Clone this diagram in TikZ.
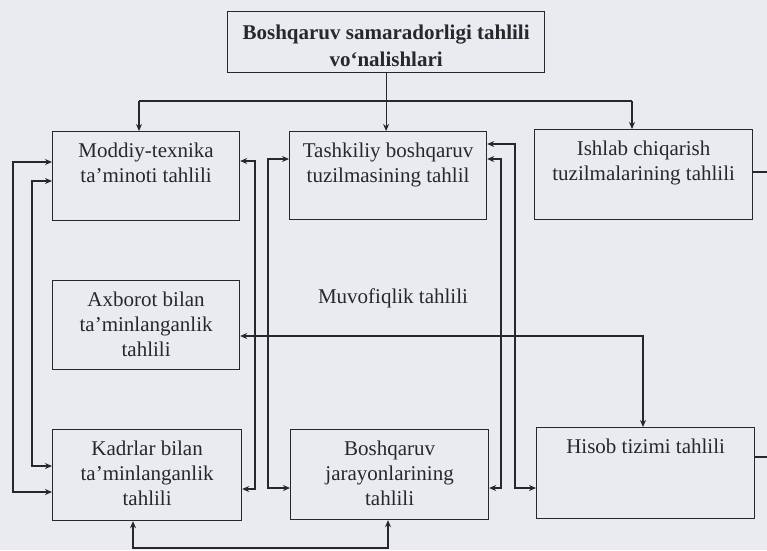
\documentclass[tikz,border=0pt]{standalone}
\usepackage{fontspec}
\setmainfont{Liberation Serif}
\usetikzlibrary{arrows.meta}
\definecolor{paper}{RGB}{233,235,241}
\definecolor{ink}{RGB}{40,40,42}
\begin{document}
\begin{tikzpicture}[x=1pt,y=-1pt,
  box/.style={draw=ink, line width=1.2pt, fill=paper, rectangle, inner sep=0pt, anchor=north west},
  lbl/.style={text=ink, inner sep=0pt, anchor=north, align=center,
    font=\fontsize{21}{25}\selectfont},
  wire/.style={draw=ink, line width=1.1pt},
  arr/.style={wire, -{Stealth[length=7pt,width=6pt]}},
  dbl/.style={wire, {Stealth[length=7pt,width=6pt]}-{Stealth[length=7pt,width=6pt]}}]
  \fill[paper] (0,0) rectangle (767,550);
  \useasboundingbox (0,0) rectangle (767,550);

  % heading box
  \node[box, minimum width=317pt, minimum height=61pt] (top) at (227,11) {};
  \node[lbl, anchor=center, font=\bfseries\fontsize{21}{27}\selectfont] (topT)
        at ([yshift=-4pt]top.center) {Boshqaruv samaradorligi tahlili\\vo‘nalishlari};

  % analysis boxes
  \node[box, minimum width=187pt, minimum height=89pt] (moddiy)  at (52,131)  {};
  \node[box, minimum width=197pt, minimum height=88pt] (tash)    at (289,131) {};
  \node[box, minimum width=218pt, minimum height=90pt] (ishlab)  at (534,129) {};
  \node[box, minimum width=187pt, minimum height=89pt] (axborot) at (52,280)  {};
  \node[box, minimum width=189pt, minimum height=91pt] (kadrlar) at (52,429)  {};
  \node[box, minimum width=198pt, minimum height=90pt] (boshq)   at (290,429) {};
  \node[box, minimum width=218pt, minimum height=91pt] (hisob)   at (536,427) {};

  % box captions, set from the top edge
  \node[lbl] (moddiyT)  at ([yshift=-12pt]moddiy.north)  {Moddiy-texnika\\ta’minoti tahlili};
  \node[lbl] (tashT)    at ([yshift=-12pt]tash.north)    {Tashkiliy boshqaruv\\tuzilmasining tahlil};
  \node[lbl] (ishlabT)  at ([yshift=-12pt]ishlab.north)  {Ishlab chiqarish\\tuzilmalarining tahlili};
  \node[lbl] (axborotT) at ([yshift=-12pt]axborot.north) {Axborot bilan\\ta’minlanganlik\\tahlili};
  \node[lbl] (kadrlarT) at ([yshift=-12pt]kadrlar.north) {Kadrlar bilan\\ta’minlanganlik\\tahlili};
  \node[lbl] (boshqT)   at ([yshift=-12pt]boshq.north)   {Boshqaruv\\jarayonlarining\\tahlili};
  \node[lbl] (hisobT)   at ([yshift=-12pt]hisob.north)   {Hisob tizimi tahlili};

  % free caption in the middle
  \node[lbl, anchor=center] (muvof) at (393,298) {Muvofiqlik tahlili};

  % distribution bus from the heading
  \coordinate (busL) at (139,101);
  \coordinate (busR) at (632,101);
  \draw[wire] (top.south) -- (top.south |- busL);
  \draw[wire] (busL) -- (busR);
  \draw[arr] (busL) -- (busL |- moddiy.north);
  \draw[arr] (top.south |- busL) -- (top.south |- tash.north);
  \draw[arr] (busR) -- (busR |- ishlab.north);

  % left-hand loops
  \draw[dbl] (moddiy.west |- 0,162) -| (13,492) -- (kadrlar.west |- 0,492);
  \draw[dbl] (moddiy.west |- 0,181) -| (32,466) -- (kadrlar.west |- 0,466);

  % inner vertical links
  \draw[dbl] (moddiy.east |- 0,161) -| (255,489) -- (kadrlar.east |- 0,489);
  \draw[dbl] (tash.west |- 0,159) -| (268,488) -- (boshq.west |- 0,488);
  \draw[dbl] (tash.east |- 0,159) -| (501,488) -- (boshq.east |- 0,488);
  \draw[dbl] (tash.east |- 0,144) -| (515,488) -- (hisob.west |- 0,488);

  % information link across the middle
  \draw[dbl] (axborot.east |- 0,336) -| (hisob.north -| 643,0);

  % bottom link
  \draw[dbl] (kadrlar.south -| 133,0) |- (388,548) -- (boshq.south -| 388,0);

  % outgoing stubs on the right edge
  \draw[wire] (ishlab.east |- 0,172) -- (767,172);
  \draw[wire] (hisob.east |- 0,457) -- (767,457);
\end{tikzpicture}
\end{document}
